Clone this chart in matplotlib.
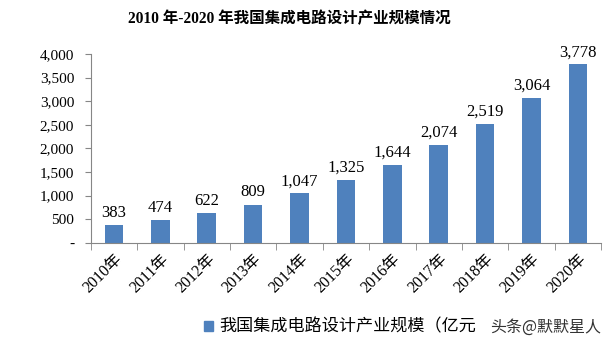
import matplotlib
matplotlib.use('Agg')
import matplotlib.pyplot as plt
from matplotlib.patches import Patch
from matplotlib.ticker import FuncFormatter

years = ['2010年', '2011年', '2012年', '2013年', '2014年', '2015年',
         '2016年', '2017年', '2018年', '2019年', '2020年']
values = [383, 474, 622, 809, 1047, 1325, 1644, 2074, 2519, 3064, 3778]
title = '2010 年-2020 年我国集成电路设计产业规模情况'
legend_label = '我国集成电路设计产业规模（亿元'
watermark = '头条@默默星人'
bar_color = '#4f81bd'

serif = ['Liberation Serif', 'Noto Sans CJK SC']
sans = ['Noto Sans CJK SC', 'DejaVu Sans']

fig = plt.figure(figsize=(6.09, 3.44), dpi=100)
ax = fig.add_axes([0.149, 0.294, 0.838, 0.549])

x = list(range(len(years)))
bars = ax.bar(x, values, width=0.4, color=bar_color, zorder=2)

for xi, v in zip(x, values):
    ax.text(xi, v + 90, f'{v:,}', ha='center', va='bottom',
            fontsize=12, family=serif)

ax.set_ylim(0, 4000)
ax.set_xlim(-0.5, len(years) - 0.5)
ax.set_yticks(range(0, 4001, 500))
ax.yaxis.set_major_formatter(FuncFormatter(lambda v, p: '-' if v == 0 else f'{int(v):,}'))
for lab in ax.get_yticklabels():
    lab.set_family(serif)
    lab.set_fontsize(11)

ax.set_xticks(x)
ax.set_xticklabels(years, rotation=45, ha='right', rotation_mode='anchor',
                   fontsize=11.5, family=serif)
ax.tick_params(axis='x', length=0, pad=6)
ax.set_xticks([i - 0.5 for i in range(len(years) + 1)], minor=True)
ax.tick_params(axis='x', which='minor', length=5, color='#868686', direction='out')
ax.tick_params(axis='y', length=4, color='#868686', direction='out', pad=8)

for s in ['top', 'right']:
    ax.spines[s].set_visible(False)
ax.spines['left'].set_color('#868686')
ax.spines['bottom'].set_color('#868686')

fig.text(0.475, 0.945, title, ha='center', va='center', fontsize=11.2,
         fontweight='bold', family=serif)

fig.legend(handles=[Patch(color=bar_color)], labels=[legend_label],
           loc='center left', bbox_to_anchor=(0.31, 0.05), frameon=False,
           handlelength=0.5, handleheight=0.5, handletextpad=0.4,
           prop={'family': sans, 'size': 12.3})
fig.text(0.805, 0.05, watermark, ha='left', va='center', fontsize=11.5,
         family=sans, color='#333333')

fig.savefig('out.png', dpi=100)
